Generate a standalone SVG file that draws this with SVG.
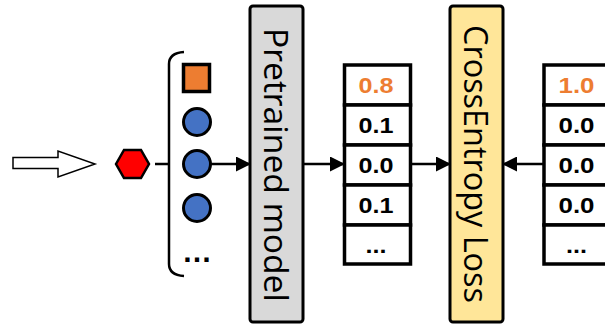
<svg xmlns="http://www.w3.org/2000/svg" width="605" height="326" viewBox="0 0 605 326">
<style>
.conn{stroke:#000;stroke-width:2.5;fill:none}
.cell{fill:#fff;stroke:#000;stroke-width:3.5}
.num{font-family:"Liberation Sans",Arial,sans-serif;font-weight:bold;font-size:22px;text-anchor:middle;fill:#000}
.hl{fill:#ED7D31}
.big{font-family:"Open Sans","Liberation Sans",sans-serif;font-size:33px;fill:#000}
.tok{fill:#4472C4;stroke:#000;stroke-width:3}
</style>
<defs>
<marker id="ah" markerUnits="userSpaceOnUse" markerWidth="15" markerHeight="15" refX="14" refY="7.5" orient="auto">
<path d="M0,0 L15,7.5 L0,15 z" fill="#000"/>
</marker>
</defs>
<g id="input-arrow">
<polygon points="13,157.5 58,157.5 58,151 95,164 58,177 58,168.5 13,168.5" fill="#fff" stroke="#000" stroke-width="1.5"/>
</g>
<g id="hexagon">
<polygon points="116,164 124,150 141,150 149,164 141,178 124,178" fill="#FF0000" stroke="#000" stroke-width="2.5"/>
</g>
<g id="tokens">
<path d="M184,52 Q169,53 169,64 L169,264 Q169,275 184,276" fill="none" stroke="#000" stroke-width="2.5"/>
<rect x="183.5" y="64.5" width="26" height="27" fill="#ED7D31" stroke="#000" stroke-width="3.5"/>
<circle class="tok" cx="197" cy="122" r="13.5"/>
<circle class="tok" cx="197" cy="164" r="13.5"/>
<circle class="tok" cx="197" cy="208" r="13.5"/>
<text x="197" y="262" font-family="Liberation Sans,Arial,sans-serif" font-weight="bold" font-size="30" text-anchor="middle">…</text>
</g>
<g id="pretrained-model">
<rect x="250" y="6" width="53" height="316" rx="3" fill="#D9D9D9" stroke="#000" stroke-width="3"/>
<text class="big" transform="translate(264,28) rotate(90)" textLength="274" lengthAdjust="spacingAndGlyphs">Pretrained model</text>
</g>
<g id="pred-column">
<rect class="cell" x="344.5" y="65" width="66" height="40"/>
<rect class="cell" x="344.5" y="105" width="66" height="40"/>
<rect class="cell" x="344.5" y="145" width="66" height="40"/>
<rect class="cell" x="344.5" y="185" width="66" height="40"/>
<rect class="cell" x="344.5" y="225" width="66" height="39"/>
<text class="num hl" x="376" y="93" textLength="35" lengthAdjust="spacingAndGlyphs">0.8</text>
<text class="num" x="376" y="133" textLength="35" lengthAdjust="spacingAndGlyphs">0.1</text>
<text class="num" x="376" y="173" textLength="35" lengthAdjust="spacingAndGlyphs">0.0</text>
<text class="num" x="376" y="213" textLength="35" lengthAdjust="spacingAndGlyphs">0.1</text>
<text class="num" x="376" y="253" textLength="21" lengthAdjust="spacingAndGlyphs">...</text>
</g>
<g id="crossentropy-loss">
<rect x="450" y="6" width="53" height="316" rx="3" fill="#FFE699" stroke="#000" stroke-width="3"/>
<text class="big" transform="translate(464,25) rotate(90)" textLength="278" lengthAdjust="spacingAndGlyphs">CrossEntropy Loss</text>
</g>
<g id="target-column">
<rect class="cell" x="544" y="65" width="66" height="40"/>
<rect class="cell" x="544" y="105" width="66" height="40"/>
<rect class="cell" x="544" y="145" width="66" height="40"/>
<rect class="cell" x="544" y="185" width="66" height="40"/>
<rect class="cell" x="544" y="225" width="66" height="39"/>
<text class="num hl" x="576.5" y="93" textLength="36" lengthAdjust="spacingAndGlyphs">1.0</text>
<text class="num" x="576.5" y="133" textLength="36" lengthAdjust="spacingAndGlyphs">0.0</text>
<text class="num" x="576.5" y="173" textLength="36" lengthAdjust="spacingAndGlyphs">0.0</text>
<text class="num" x="576.5" y="213" textLength="36" lengthAdjust="spacingAndGlyphs">0.0</text>
<text class="num" x="576.5" y="253" textLength="21" lengthAdjust="spacingAndGlyphs">...</text>
</g>
<g id="connectors">
<line class="conn" x1="155" y1="164" x2="169" y2="164"/>
<line class="conn" x1="211" y1="164" x2="250" y2="164" marker-end="url(#ah)"/>
<line class="conn" x1="303" y1="164" x2="344" y2="164" marker-end="url(#ah)"/>
<line class="conn" x1="411" y1="164" x2="450" y2="164" marker-end="url(#ah)"/>
<line class="conn" x1="543" y1="164" x2="503" y2="164" marker-end="url(#ah)"/>
</g>
</svg>
